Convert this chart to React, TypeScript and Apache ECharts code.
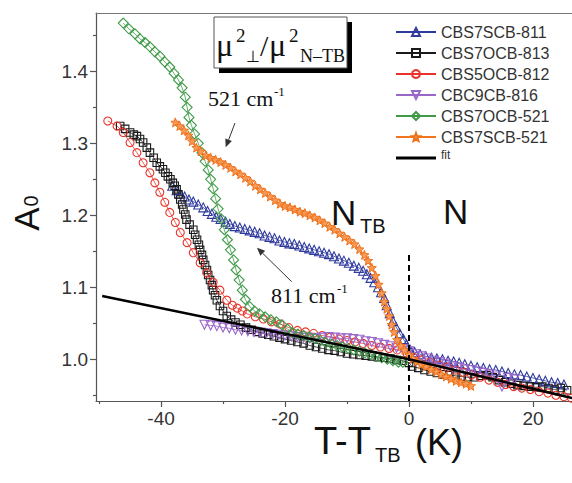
import React, { useEffect, useRef } from "react";
import * as echarts from "echarts";

// ---------- axis ticks ----------
const xTicksMajor = [-40, -20, 0, 20];
const xTicksMinor = [-50, -30, -10, 10];
const yTicksMajor = [1.0, 1.1, 1.2, 1.3, 1.4];
const yTicksMinor = [0.95, 1.05, 1.15, 1.25, 1.35, 1.45];

// ---------- series names ----------
const names = ["CBS7SCB-811", "CBS7OCB-813", "CBS5OCB-812", "CBC9CB-816", "CBS7OCB-521", "CBS7SCB-521", "fit"];

// ---------- data [T-TTB, A0] ----------
const blue811 = [
  [-38.2, 1.241], [-37.5, 1.235], [-36.9, 1.23], [-36.2, 1.226], [-35.5, 1.222], [-34.8, 1.219], [-34, 1.215], [-33.2, 1.211],
  [-32.5, 1.206], [-31.8, 1.202], [-31.1, 1.198], [-30.4, 1.195], [-29.6, 1.191], [-28.9, 1.188], [-28.1, 1.185], [-27.3, 1.183],
  [-26.5, 1.181], [-25.7, 1.179], [-24.9, 1.177], [-24.1, 1.175], [-23.3, 1.172], [-22.5, 1.17], [-21.7, 1.168], [-20.9, 1.165],
  [-20.1, 1.163], [-19.3, 1.161], [-18.5, 1.16], [-17.7, 1.158], [-16.9, 1.156], [-16.1, 1.154], [-15.3, 1.152], [-14.5, 1.15],
  [-13.7, 1.148], [-12.9, 1.146], [-12.1, 1.143], [-11.3, 1.14], [-10.5, 1.137], [-9.7, 1.134], [-8.9, 1.13], [-8.1, 1.127],
  [-7.4, 1.123], [-6.8, 1.118], [-6.2, 1.113], [-5.6, 1.107], [-5, 1.1], [-4.5, 1.093], [-4, 1.085], [-3.6, 1.075],
  [-3.1, 1.064], [-2.6, 1.053], [-2.1, 1.045], [-1.5, 1.036], [-0.9, 1.028], [-0.4, 1.021], [0.2, 1.013], [0.9, 1.01],
  [1.8, 1.007], [2.7, 1.004], [3.6, 1.002], [4.5, 1.001], [5.4, 1.0], [6.3, 0.998], [7.2, 0.997], [8.1, 0.995],
  [9, 0.993], [10, 0.991], [11, 0.989], [12, 0.988], [13, 0.986], [14, 0.985], [15, 0.983], [16, 0.981],
  [17, 0.979], [18, 0.978], [19, 0.976], [20, 0.974], [21, 0.972], [22, 0.97], [23, 0.968], [24, 0.967], [25, 0.965],
];

const black813 = [
  [-46.6, 1.324], [-45.8, 1.32], [-45, 1.315], [-44.4, 1.312], [-43.9, 1.31], [-43.4, 1.306], [-42.9, 1.301], [-42.3, 1.294],
  [-41.8, 1.287], [-41.2, 1.28], [-40.7, 1.273], [-40.2, 1.268], [-39.7, 1.264], [-39.3, 1.259], [-38.9, 1.254], [-38.5, 1.25],
  [-38.1, 1.245], [-37.8, 1.241], [-37.5, 1.236], [-37.2, 1.229], [-36.9, 1.222], [-36.6, 1.215], [-36.4, 1.208], [-36.1, 1.201],
  [-35.9, 1.194], [-35.4, 1.187], [-34.8, 1.18], [-34.5, 1.173], [-34.2, 1.166], [-33.9, 1.159], [-33.7, 1.152], [-33.4, 1.145],
  [-33.2, 1.138], [-32.9, 1.131], [-32.6, 1.124], [-32.4, 1.117], [-32.1, 1.11], [-31.8, 1.103], [-31.6, 1.096], [-31.3, 1.089],
  [-31, 1.082], [-30.5, 1.074], [-30, 1.067], [-29.4, 1.06], [-28.7, 1.055], [-28, 1.051], [-27.2, 1.048], [-26.3, 1.044],
  [-25.4, 1.041], [-24.5, 1.038], [-23.6, 1.036], [-22.7, 1.034], [-21.8, 1.032], [-20.9, 1.03], [-20, 1.028], [-19, 1.026],
  [-18, 1.024], [-17, 1.022], [-16, 1.019], [-15, 1.017], [-14, 1.015], [-13, 1.013], [-12, 1.012], [-11, 1.01],
  [-10, 1.008], [-9, 1.007], [-8, 1.006], [-7, 1.005], [-6, 1.004], [-5, 1.003], [-4, 1.002], [-3, 1.001],
  [-2, 0.999], [-1, 0.998], [0, 0.995], [0.5, 0.99], [1.5, 0.988], [2.5, 0.985], [3.5, 0.983], [4.5, 0.981],
  [5.5, 0.979], [6.5, 0.978], [7.5, 0.977], [8.5, 0.976], [9.5, 0.975], [10.5, 0.975], [11.5, 0.977], [12.5, 0.978],
  [13.5, 0.975], [14.5, 0.971], [15.5, 0.968], [16.5, 0.966], [17.5, 0.964], [18.5, 0.963], [19.5, 0.962], [20.5, 0.961],
  [21.5, 0.962], [22.5, 0.96], [23.5, 0.958], [24.5, 0.96], [25.5, 0.957],
];

const red812 = [
  [-48.6, 1.331], [-47.1, 1.324], [-46.1, 1.315], [-45, 1.301], [-43.9, 1.287], [-42.9, 1.273], [-41.8, 1.259], [-41, 1.245],
  [-40.2, 1.232], [-39.4, 1.218], [-38.6, 1.204], [-37.7, 1.19], [-36.9, 1.176], [-35.8, 1.162], [-34.8, 1.148], [-33.7, 1.134],
  [-32.6, 1.12], [-31.6, 1.107], [-30.5, 1.096], [-29.4, 1.082], [-28.5, 1.075], [-27.7, 1.071], [-26.9, 1.067], [-26.1, 1.063],
  [-24.8, 1.059], [-23.5, 1.056], [-22.2, 1.052], [-20.8, 1.049], [-19.4, 1.044], [-18, 1.04], [-16.7, 1.038], [-15.4, 1.036],
  [-14, 1.033], [-12.7, 1.031], [-11.3, 1.028], [-10, 1.026], [-8.7, 1.024], [-7.4, 1.022], [-6, 1.019], [-4.6, 1.017],
  [-3.2, 1.015], [-1.9, 1.013], [-0.3, 1.008], [0.7, 1.003], [2, 0.999], [3.4, 0.996], [4.8, 0.992], [6.2, 0.989],
  [7.5, 0.985], [8.8, 0.982], [10.1, 0.978], [11.5, 0.975], [12.9, 0.971], [14.3, 0.968], [15.6, 0.965], [16.9, 0.962],
  [18.2, 0.96], [19.6, 0.958], [21, 0.955], [22.4, 0.953], [23.7, 0.95], [25, 0.948], [26.2, 0.946],
];

const purple816 = [
  [-33, 1.048], [-32, 1.047], [-31, 1.046], [-30, 1.044], [-29, 1.043], [-28, 1.041], [-27, 1.04], [-26, 1.039],
  [-25, 1.038], [-24, 1.037], [-23, 1.036], [-22, 1.035], [-21, 1.034], [-20, 1.033], [-19, 1.032], [-18, 1.031],
  [-17, 1.03], [-16, 1.029], [-15, 1.029], [-14, 1.03], [-13, 1.031], [-12, 1.03], [-11, 1.029], [-10, 1.029],
  [-9, 1.028], [-8, 1.027], [-7, 1.025], [-6, 1.024], [-5, 1.022], [-4, 1.02], [-3, 1.018], [-2, 1.016],
  [-1, 1.014], [0, 1.011], [1, 1.007], [2, 1.004], [3, 1.001], [4, 0.998], [5, 0.996], [6, 0.993],
  [7, 0.99], [8, 0.988], [9, 0.986], [10, 0.985], [11, 0.983], [12, 0.981], [13, 0.979], [14, 0.976],
  [15, 0.962], [16, 0.974], [17, 0.972],
];

const green521 = [
  [-46.1, 1.467], [-45.2, 1.459], [-44.2, 1.452], [-43.4, 1.445], [-42.6, 1.44], [-41.8, 1.434], [-41, 1.427], [-40.2, 1.421],
  [-39.4, 1.413], [-38.6, 1.406], [-37.9, 1.397], [-37.2, 1.388], [-36.6, 1.377], [-36.1, 1.364], [-35.8, 1.35], [-35.5, 1.336],
  [-35.1, 1.325], [-34.6, 1.313], [-34, 1.3], [-33.4, 1.287], [-32.9, 1.275], [-32.4, 1.263], [-32, 1.25], [-31.6, 1.237],
  [-31.2, 1.223], [-30.8, 1.209], [-30.3, 1.195], [-29.8, 1.18], [-29.3, 1.166], [-28.8, 1.152], [-28.3, 1.138], [-27.9, 1.124],
  [-27.4, 1.11], [-26.9, 1.096], [-26.4, 1.083], [-25.7, 1.073], [-24.9, 1.067], [-24.1, 1.063], [-23.2, 1.059], [-22.3, 1.055],
  [-21.4, 1.052], [-20.5, 1.048], [-19.6, 1.042], [-18.8, 1.037], [-17.9, 1.035], [-17, 1.033], [-16.1, 1.031], [-15.2, 1.029],
  [-14.3, 1.026], [-13.4, 1.023], [-12.5, 1.021], [-11.6, 1.019], [-10.7, 1.017], [-9.8, 1.015], [-8.9, 1.013], [-8, 1.011],
  [-7.1, 1.009], [-6.2, 1.007], [-5.3, 1.004], [-4.4, 1.002], [-3.5, 1.0], [-2.6, 0.998], [-1.7, 0.996], [-1, 0.996],
];

const orange521 = [
  [-37.7, 1.329], [-37, 1.324], [-36.3, 1.318], [-35.6, 1.311], [-35, 1.303], [-34.3, 1.294], [-33.6, 1.289], [-32.8, 1.283],
  [-32, 1.28], [-31.2, 1.277], [-30.4, 1.274], [-29.6, 1.27], [-28.8, 1.266], [-28, 1.261], [-27.2, 1.257], [-26.4, 1.252],
  [-25.6, 1.247], [-24.8, 1.241], [-24, 1.236], [-23.2, 1.231], [-22.4, 1.226], [-21.6, 1.221], [-20.8, 1.216], [-20, 1.213],
  [-19.2, 1.211], [-18.4, 1.208], [-17.6, 1.205], [-16.8, 1.203], [-16, 1.2], [-15.2, 1.197], [-14.4, 1.193], [-13.6, 1.189],
  [-12.8, 1.184], [-12, 1.18], [-11.2, 1.175], [-10.4, 1.17], [-9.6, 1.165], [-8.8, 1.16], [-8, 1.153], [-7.2, 1.145],
  [-6.6, 1.137], [-6, 1.127], [-5.4, 1.116], [-4.9, 1.104], [-4.4, 1.092], [-4, 1.08], [-3.6, 1.07], [-3.2, 1.06],
  [-2.8, 1.048], [-2.4, 1.038], [-1.9, 1.027], [-1.3, 1.019], [-0.7, 1.013], [0, 1.006], [0.6, 1.001], [1.3, 0.997],
  [2, 0.993], [2.8, 0.99], [3.6, 0.986], [4.4, 0.983], [5.2, 0.979], [6, 0.976], [6.8, 0.973], [7.6, 0.97],
  [8.4, 0.968], [9.2, 0.966], [10, 0.963],
];

const fitLine = [[-49.5, 1.088], [0, 1.0], [26.3, 0.946]];
const transitionLine = [[0, 0.942], [0, 1.145]];

const X_MIN = -50.5;
const X_MAX = 26.3;
const Y_MIN = 0.942;
const Y_MAX = 1.481;

const SANS = "'Liberation Sans', Arial, sans-serif";
const SERIF = "'Liberation Serif', 'Times New Roman', serif";
const AXIS = "#555";
const STAR = "path://M12,1 L14.9,8.6 L23,9 L16.7,14.2 L18.8,22 L12,17.6 L5.2,22 L7.3,14.2 L1,9 L9.1,8.6 Z";
const FIT_ICON = "path://M0,0 L40,0 L40,3 L0,3 Z";

function scatterLine(name: string, data: number[][], color: string, symbol: string, size: number, rotate = 0, filled = false) {
  return {
    name,
    type: "line",
    data,
    symbol,
    symbolSize: size,
    symbolRotate: rotate,
    showAllSymbol: true,
    lineStyle: { color, width: 0.8 },
    itemStyle: { color: filled ? color : "rgba(255,255,255,0)", borderColor: color, borderWidth: 1.1 },
    emphasis: { disabled: true },
    z: 3,
  };
}

function txt(text: string, x: number, y: number, size: number, family: string, extra: any = {}) {
  return {
    type: "text",
    x,
    y,
    silent: true,
    z: 50,
    ...extra,
    style: { text, fontSize: size, fontFamily: family, fill: "#111", textAlign: "left", textVerticalAlign: "middle", ...(extra.style || {}) },
  };
}

export default function App() {
  const ref = useRef<HTMLDivElement>(null);
  useEffect(() => {
    if (!ref.current) return;
    const chart = echarts.init(ref.current, undefined, { renderer: "svg" });
    const valueAxisBase = { type: "value", min: X_MIN, max: X_MAX, splitLine: { show: false } };
    const yBase = { type: "value", min: Y_MIN, max: Y_MAX, splitLine: { show: false } };
    chart.setOption({
      animation: false,
      backgroundColor: "#fff",
      grid: { left: 96, right: 0, top: 13, bottom: 82 },
      xAxis: [
        {
          ...valueAxisBase,
          position: "bottom",
          axisLine: { show: true, onZero: false, lineStyle: { color: AXIS, width: 1.2 } },
          axisTick: { show: true, customValues: xTicksMajor, length: 6, lineStyle: { color: AXIS, width: 1.2 } },
          axisLabel: { customValues: xTicksMajor, fontSize: 19, color: "#333", fontFamily: SANS, margin: 8, formatter: (v: number) => String(v) },
        },
        {
          ...valueAxisBase,
          position: "bottom",
          axisLine: { show: false, onZero: false },
          axisTick: { show: true, customValues: xTicksMinor, length: 3, lineStyle: { color: AXIS, width: 1.2 } },
          axisLabel: { show: false },
        },
        {
          ...valueAxisBase,
          position: "top",
          axisLine: { show: true, onZero: false, lineStyle: { color: "#777", width: 1.2 } },
          axisTick: { show: false },
          axisLabel: { show: false },
        },
      ],
      yAxis: [
        {
          ...yBase,
          position: "left",
          axisLine: { show: true, onZero: false, lineStyle: { color: AXIS, width: 1.2 } },
          axisTick: { show: true, customValues: yTicksMajor, length: 6, lineStyle: { color: AXIS, width: 1.2 } },
          axisLabel: { customValues: yTicksMajor, fontSize: 19, color: "#333", fontFamily: SANS, margin: 8, formatter: (v: number) => v.toFixed(1) },
        },
        {
          ...yBase,
          position: "left",
          axisLine: { show: false, onZero: false },
          axisTick: { show: true, customValues: yTicksMinor, length: 3, lineStyle: { color: AXIS, width: 1.2 } },
          axisLabel: { show: false },
        },
      ],
      legend: {
        orient: "vertical",
        left: 390,
        top: 18,
        itemWidth: 40,
        itemHeight: 10,
        itemGap: 3,
        data: [...names.slice(0, 6), { name: "fit", icon: FIT_ICON, itemStyle: { color: "#000" } }],
        selectedMode: false,
        textStyle: {
          fontSize: 16,
          color: "#333",
          fontFamily: SANS,
          lineHeight: 18,
          rich: { f: { fontSize: 12, fontFamily: SANS, color: "#333", lineHeight: 18, padding: [0, 0, 6, 0] } },
        },
        formatter: (n: string) => (n === "fit" ? "{f|fit}" : n),
      },
      series: [
        scatterLine(names[0], blue811, "#2f3a9e", "triangle", 9),
        scatterLine(names[1], black813, "#1a1a1a", "rect", 7.5),
        scatterLine(names[2], red812, "#e8342a", "circle", 8),
        scatterLine(names[3], purple816, "#9966cc", "triangle", 9, 180),
        scatterLine(names[4], green521, "#3f9a48", "diamond", 10),
        {
          ...scatterLine(names[5], orange521, "#f27320", STAR, 9, 0, true),
          itemStyle: { color: "#f79a55", borderColor: "#f0701a", borderWidth: 1 },
        },
        {
          name: names[6],
          type: "line",
          data: fitLine,
          symbol: "none",
          lineStyle: { color: "#000", width: 2.5 },
          itemStyle: { color: "#000" },
          emphasis: { disabled: true },
          z: 5,
        },
        {
          name: "transition",
          type: "line",
          data: transitionLine,
          symbol: "none",
          lineStyle: { color: "#000", width: 2, type: [6, 4] },
          emphasis: { disabled: true },
          z: 6,
        },
      ],
      graphic: [
        // y axis title A0
        txt("A", 26, 219, 35, SANS, { rotation: Math.PI / 2, style: { textAlign: "center" } }),
        txt("0", 31, 201, 20, SANS, { rotation: Math.PI / 2, style: { textAlign: "center" } }),
        // x axis title
        txt("T-T", 314, 441, 38, SANS),
        txt("TB", 375, 455, 20, SANS),
        txt("(K)", 415, 442, 36, SANS),
        // phase labels
        txt("N", 331, 212, 35, SANS),
        txt("TB", 360, 226, 20, SANS),
        txt("N", 443, 211, 35, SANS),
        // boxed formula
        { type: "rect", shape: { x: 219, y: 22, width: 133, height: 51 }, style: { fill: "#000" }, z: 40, silent: true },
        { type: "rect", shape: { x: 214, y: 17, width: 133, height: 51 }, style: { fill: "#fff", stroke: "#555", lineWidth: 1 }, z: 41, silent: true },
        txt("\u03bc", 216, 45, 32, SERIF),
        txt("2", 236, 35, 19, SERIF),
        txt("\u22a5", 246, 56, 16, SERIF),
        txt("/", 260, 45, 30, SERIF),
        txt("\u03bc", 269, 45, 32, SERIF),
        txt("2", 289, 35, 19, SERIF),
        txt("N\u2013TB", 300, 56, 18, SERIF),
        // wavenumber annotations
        txt("521 cm", 208, 98, 22, SERIF),
        txt("-1", 274, 91, 13, SERIF),
        txt("811 cm", 271, 295, 22, SERIF),
        txt("-1", 337, 288, 13, SERIF),
        // arrows
        { type: "line", shape: { x1: 235, y1: 123, x2: 228.6, y2: 139.8 }, style: { stroke: "#333", lineWidth: 1 }, z: 45, silent: true },
        { type: "polygon", shape: { points: [[225.7, 147.3], [231.9, 141.1], [225.3, 138.5]] }, style: { fill: "#333" }, z: 45, silent: true },
        { type: "line", shape: { x1: 291.7, y1: 281.7, x2: 262.7, y2: 253.3 }, style: { stroke: "#333", lineWidth: 1 }, z: 45, silent: true },
        { type: "polygon", shape: { points: [[257, 247.7], [265.2, 250.8], [260.3, 255.8]] }, style: { fill: "#333" }, z: 45, silent: true },
      ],
    });
    return () => chart.dispose();
  }, []);
  return <div ref={ref} style={{ position: "fixed", left: 0, top: 0, width: 572, height: 483 }} />;
}
